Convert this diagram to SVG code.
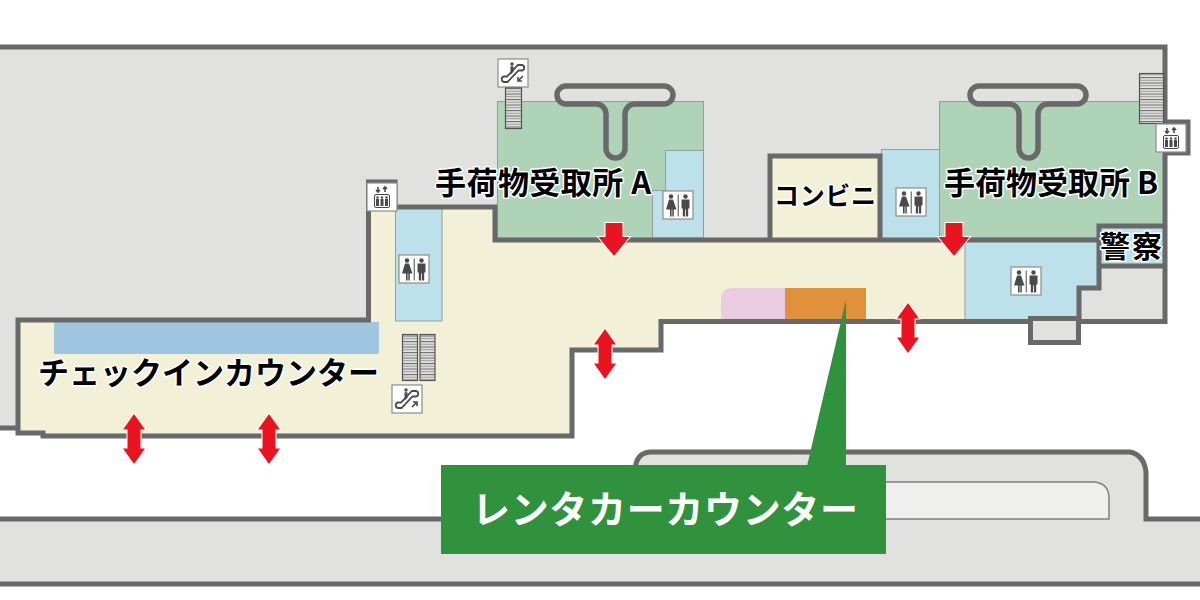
<svg xmlns="http://www.w3.org/2000/svg" width="1200" height="600" viewBox="0 0 1200 600">
<style>
.wall{fill:none;stroke:#696969;stroke-width:5;stroke-linejoin:miter}
.carousel{fill:none;stroke:#696969;stroke-width:5.500}
.gray{fill:#e1e1df}
.cream{fill:#f3f0d8}
.green{fill:#aed3b6;stroke:#8f9f96;stroke-width:1}
.blue{fill:#bde1ea;stroke:#8f9f9f;stroke-width:1}
.lbl{font-family:"Noto Sans CJK JP","Noto Sans",sans-serif;font-weight:700;fill:#000;stroke:#fff;stroke-width:3;paint-order:stroke;stroke-linejoin:round}
.wl{font-family:"Noto Sans CJK JP","Noto Sans",sans-serif;font-weight:700;fill:#fff;font-size:38px}
.arrow{fill:#e9141f;stroke:#fff;stroke-width:2;paint-order:stroke}
.iconbox{fill:#fff;stroke:#8c8c8c;stroke-width:1.200}
.ink{fill:#4a4a4a}
.inkline{fill:none;stroke:#4a4a4a;stroke-width:1.600}
</style>
<defs>
<pattern id="st" width="8" height="5.500" patternUnits="userSpaceOnUse"><rect width="8" height="5.500" fill="#e4e4e2"/><rect width="8" height="1.100" fill="#6e6e6e"/><rect y="2.700" width="8" height="1.100" fill="#9a9a9a"/></pattern>
<g id="wc">
<rect class="iconbox" x="0" y="0" width="30" height="28"/>
<circle class="ink" cx="8" cy="5.500" r="2.200"/>
<path class="ink" d="M6 8.500h4l3.500 10h-2.700v7h-1.500v-7h-.7v7H7v-7H3z"/>
<rect class="ink" x="14.700" y="3.500" width="1" height="22"/>
<circle class="ink" cx="22.500" cy="5.500" r="2.200"/>
<path class="ink" d="M18.500 8.500h8v9h-1.300v8h-2.300v-7h-.8v7h-2.300v-8h-1.300z"/>
</g>
<g id="elev">
<rect class="iconbox" x="0" y="0" width="30" height="28"/>
<path class="inkline" stroke-width="1" d="M11 4v5M9 7l2 2 2-2M18 9V4M16 6l2-2 2 2"/>
<rect x="7.500" y="11.500" width="15" height="13" rx="1.500" fill="none" stroke="#4a4a4a" stroke-width="1"/>
<path class="ink" d="M9 16h3v7H9zM13.500 16h3v7h-3zM18 16h3v7h-3z"/>
<circle class="ink" cx="10.500" cy="14.500" r="1.200"/><circle class="ink" cx="15" cy="14.500" r="1.200"/><circle class="ink" cx="19.500" cy="14.500" r="1.200"/>
</g>
<g id="esc">
<rect class="iconbox" x="0" y="0" width="30" height="28"/>
<path d="M6 23h3.500l11-11.500h3.500a2.800 2.800 0 0 0 0-5.500h-4L9 17.500H6a2.800 2.800 0 0 0 0 5.500z" fill="none" stroke="#4a4a4a" stroke-width="1.800"/>
<circle class="ink" cx="14" cy="5" r="1.700"/>
<path class="ink" d="M12.500 7.200h3v5.500l-3 3z"/>
</g>
<path id="dbl" d="M0 0l11 15.500h-4.500v19H11L0 50-11 34.500h4.500v-19H-11z"/>
<path id="dn" d="M-8.500 0h17v14h7L0 33-15.500 14h7z"/>
<path id="tee" d="M566 86H664A9 9 0 0 1 664 104H635A10 10 0 0 0 625 114V148.500A9.500 9.500 0 0 1 606 148.500V114A10 10 0 0 0 596 104H566A9 9 0 0 1 566 86Z"/>
</defs>

<g id="terminal-floor">
<path class="gray" d="M0 47H1165V322H1079V343H1029V322H370V320H17V428H0Z"/>
<rect class="gray" x="1165" y="122" width="23" height="31"/>
<path class="cream" d="M370 208H495V240H965V322H661V350H572V436H43V433H18V320H370Z"/>
<rect class="green" x="497.500" y="101.500" width="206" height="137"/>
<path class="green" d="M939.500 101.500H1165V238H939.500Z"/>
<path class="blue" d="M665.500 150.500H703.500V238H652.500V190.500H665.500Z"/>
<rect class="blue" x="881.500" y="149.500" width="58" height="89"/>
<rect class="blue" x="395.500" y="208" width="46.500" height="113"/>
<path class="blue" d="M965 240H1098V287H1078V317H1029V322H965Z"/>
<rect class="cream" x="770" y="156" width="110" height="83"/>
<rect x="54" y="322" width="325" height="32" fill="#9fc7e1"/>
<path d="M785 288H733Q721 288 721 300V320H785Z" fill="#ebcbe0"/>
<rect x="785" y="288" width="81" height="32" fill="#e0913c"/>
<rect x="1099" y="228" width="64" height="37" fill="#bde1ea"/>
</g>

<g id="lower-building">
<path class="gray" d="M0 519H635V465Q637 452 650 452H1130Q1144 455 1146 470V519H1200V584H0Z"/>
<path d="M885 482H1095Q1109 484 1109 498V519H885Z" fill="#efefee" stroke="#808080" stroke-width="1.500"/>
<path class="wall" d="M0 519H445M635 470Q636 453 650 452H1130Q1144 455 1146 472V519H1200"/>
<path class="wall" d="M0 584H1200"/>
</g>

<g id="walls">
<path class="wall" d="M0 47H1165V122H1188V153H1165V321.500H1079"/>
<path class="wall" d="M1030 321.500H661V350H572V436H43V433H18V320H368.500V182H395V207H495V240H1097"/>
<rect class="wall" x="1030.500" y="318.500" width="48" height="24"/>
<path class="wall" d="M0 428H18"/>
<path class="wall" d="M770 240V156H880V240"/>
<path class="wall" d="M1099 240V226H1165M1099 240V266H1165M1099 266V288H1079V319"/>
<use href="#tee" class="carousel"/>
<use href="#tee" class="carousel" x="413"/>
</g>

<g id="stairs" fill="url(#st)" stroke="#555" stroke-width="1.200">
<rect x="505.500" y="87.500" width="16" height="41"/>
<rect x="1139.500" y="73.500" width="24" height="50"/>
<rect x="402.500" y="334.500" width="15" height="46"/>
<rect x="420" y="334.500" width="15" height="46"/>
</g>

<g id="icons">
<use href="#esc" x="498" y="59"/>
<path class="inkline" d="M523 76l-5 5M518 77v4h4"/>
<use href="#esc" x="392" y="385"/>
<path class="inkline" d="M412 407l5-5M413 402h4v4"/>
<use href="#elev" x="367" y="183"/>
<use href="#elev" x="1156" y="124"/>
<use href="#wc" x="663" y="191"/>
<use href="#wc" x="399" y="255"/>
<use href="#wc" x="896" y="188"/>
<use href="#wc" x="1011" y="267"/>
</g>

<g id="red-arrows">
<use href="#dn" class="arrow" x="614" y="223"/>
<use href="#dn" class="arrow" x="954" y="223"/>
<use href="#dbl" class="arrow" x="134" y="414"/>
<use href="#dbl" class="arrow" x="269" y="414"/>
<use href="#dbl" class="arrow" x="605" y="329"/>
<use href="#dbl" class="arrow" x="908" y="303"/>
</g>

<g id="labels">
<text class="lbl" x="435" y="194" font-size="31" textLength="216" lengthAdjust="spacing">手荷物受取所 A</text>
<text class="lbl" x="944" y="194" font-size="31" textLength="214" lengthAdjust="spacing">手荷物受取所 B</text>
<text class="lbl" x="774" y="205" font-size="25" textLength="102" lengthAdjust="spacing">コンビニ</text>
<text class="lbl" x="1100" y="257" font-size="30" textLength="62" lengthAdjust="spacing">警察</text>
<text class="lbl" x="38" y="384" font-size="31" textLength="341" lengthAdjust="spacing">チェックインカウンター</text>
</g>

<g id="rental-counter">
<path d="M846 300V466H807Z" fill="#30923c"/>
<rect x="441" y="465" width="445" height="89" fill="#30923c"/>
<text class="wl" x="472" y="523" textLength="386" lengthAdjust="spacing">レンタカーカウンター</text>
</g>
</svg>
